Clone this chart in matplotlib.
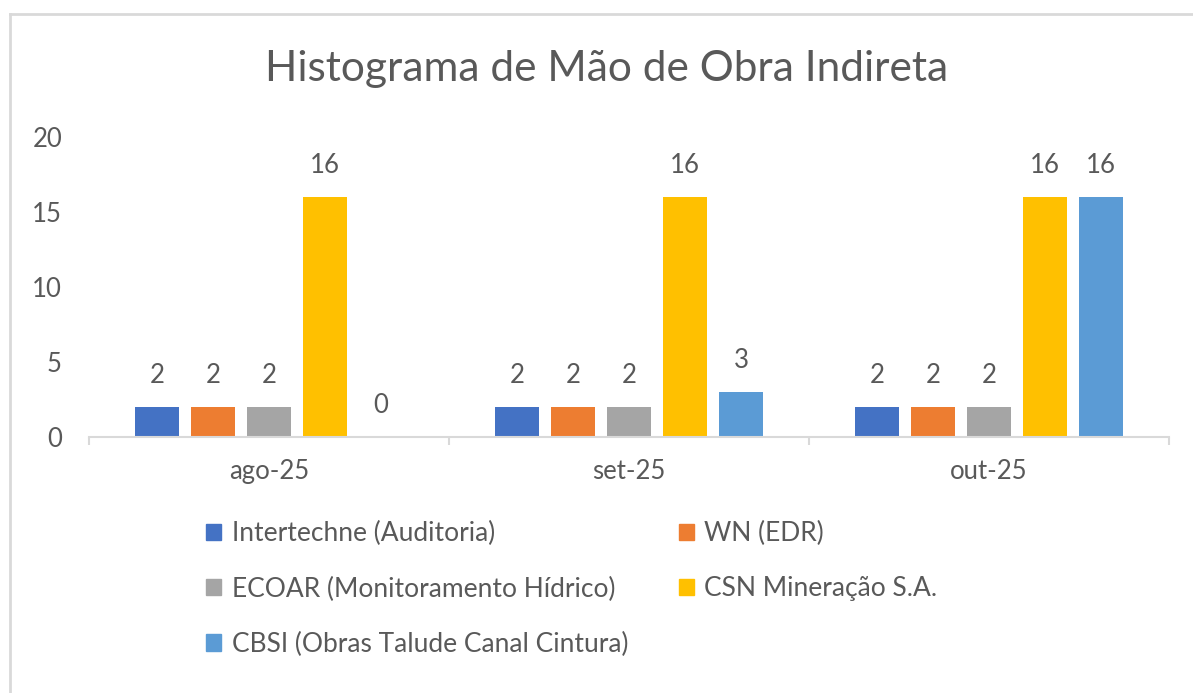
import numpy as np
import matplotlib.pyplot as plt
from matplotlib.patches import Patch
from matplotlib.lines import Line2D

plt.rcParams['font.family'] = ['Lato', 'DejaVu Sans']

meses = ['ago-25', 'set-25', 'out-25']
empresas = ['Intertechne (Auditoria)', 'WN (EDR)', 'ECOAR (Monitoramento Hídrico)',
            'CSN Mineração S.A.', 'CBSI (Obras Talude Canal Cintura)']
intertechne = [2, 2, 2]
wn = [2, 2, 2]
ecoar = [2, 2, 2]
csn = [16, 16, 16]
cbsi = [0, 3, 16]
series = [intertechne, wn, ecoar, csn, cbsi]
cores = ['#4472C4', '#ED7D31', '#A5A5A5', '#FFC000', '#5B9BD5']

txt = '#595959'
cinza = '#D9D9D9'
W, H = 1193, 693

fig = plt.figure(figsize=(W / 100, H / 100), dpi=100)
ax = fig.add_axes([89 / W, 256 / H, 1080 / W, 300 / H])

x = np.arange(len(meses))
passo = 0.1556
largura = 0.12
for i, (vals, cor) in enumerate(zip(series, cores)):
    pos = x + (i - 2) * passo
    ax.bar(pos, vals, largura, color=cor, label=empresas[i])
    for px, v in zip(pos, vals):
        ax.annotate(str(v), (px, v), xytext=(0, 17.3), textcoords='offset points',
                    ha='center', va='baseline', fontsize=18.5, color=txt)

ax.set_xlim(-0.5, 2.5)
ax.set_ylim(0, 20)
ax.set_yticks([0, 5, 10, 15, 20])
ax.tick_params(axis='y', length=0, pad=19.4, labelsize=18.5, labelcolor=txt)

# categorias: separadores nos limites, rótulos no centro
ax.set_xticks([-0.5, 0.5, 1.5, 2.5])
ax.set_xticklabels([])
ax.set_xticks(x, minor=True)
ax.set_xticklabels(meses, minor=True)
ax.tick_params(axis='x', which='major', length=6, width=1.5, color=cinza, direction='out')
ax.tick_params(axis='x', which='minor', length=0, pad=16, labelsize=18.5, labelcolor=txt)

for s in ['top', 'right', 'left']:
    ax.spines[s].set_visible(False)
ax.spines['bottom'].set_color(cinza)
ax.spines['bottom'].set_linewidth(1.5)

fig.text(607 / W, 1 - 81 / H, 'Histograma de Mão de Obra Indireta',
         ha='center', va='baseline', fontsize=30.5, color=txt)

# legenda em linhas como no Excel: ordem por coluna
handles = [Patch(color=c) for c in cores]
ordem = [0, 2, 4, 1, 3]
leg = fig.legend([handles[k] for k in ordem], [empresas[k] for k in ordem],
                 ncol=2, loc='upper left', bbox_to_anchor=(206 / W, 1 - 521 / H),
                 frameon=False, fontsize=19, labelcolor=txt, borderpad=0,
                 handlelength=0.58, handleheight=0.58, handletextpad=0.4,
                 columnspacing=1.9, labelspacing=1.15, borderaxespad=0)

# moldura do gráfico
fig.add_artist(Line2D([10 / W, 10 / W], [0, 1 - 14 / H], color=cinza, lw=2))
fig.add_artist(Line2D([10 / W, 1], [1 - 14 / H, 1 - 14 / H], color=cinza, lw=2))

fig.savefig('out.png', dpi=100)
